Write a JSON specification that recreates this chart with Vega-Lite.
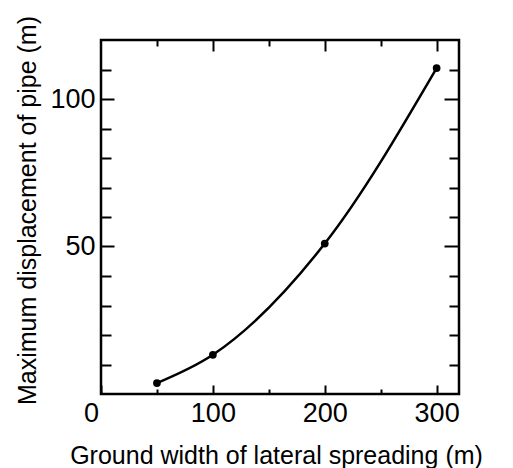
{
  "$schema": "https://vega.github.io/schema/vega-lite/v6.json",
  "width": 358,
  "height": 354,
  "autosize": "none",
  "padding": {"left": 101, "top": 40, "right": 54, "bottom": 74},
  "background": "white",
  "config": {
    "view": {"stroke": "black", "strokeWidth": 2.5},
    "axis": {
      "domain": false,
      "grid": false,
      "labelFont": "Liberation Sans",
      "titleFont": "Liberation Sans",
      "labelColor": "black",
      "titleColor": "black",
      "tickColor": "black",
      "tickWidth": 2,
      "labelFontSize": 27,
      "titleFontSize": 25,
      "titleFontWeight": "normal"
    }
  },
  "data": {
    "values": [
      {"w": 50, "d": 3.7},
      {"w": 100, "d": 13.3},
      {"w": 200, "d": 51},
      {"w": 300, "d": 110.5}
    ]
  },
  "resolve": {"axis": {"x": "independent", "y": "independent"}},
  "layer": [
    {
      "mark": {"type": "line", "interpolate": "monotone", "color": "black", "strokeWidth": 2.5},
      "encoding": {
        "x": {
          "field": "w", "type": "quantitative",
          "scale": {"domain": [0, 320], "nice": false},
          "axis": {
            "orient": "bottom",
            "title": "Ground width of lateral spreading (m)",
            "titlePadding": 17,
            "titleX": 175,
            "values": [0, 50, 100, 150, 200, 250, 300],
            "labelExpr": "datum.value % 100 == 0 ? datum.label : ''",
            "labelPadding": 15,
            "labelOffset": {"condition": {"test": "datum.value == 0", "value": -10}, "value": 0},
            "labelFlush": false,
            "tickSize": {"condition": {"test": "datum.value % 100 == 0", "value": -9}, "value": -5}
          }
        },
        "y": {
          "field": "d", "type": "quantitative",
          "scale": {"domain": [0, 120], "nice": false},
          "axis": {
            "orient": "left",
            "title": "Maximum displacement of pipe (m)",
            "titlePadding": 9,
            "titleY": 170,
            "values": [10, 20, 30, 40, 50, 60, 70, 80, 90, 100, 110],
            "labelExpr": "datum.value % 50 == 0 ? datum.label : ''",
            "labelPadding": 19,
            "labelFlush": false,
            "tickSize": {"condition": {"test": "datum.value % 50 == 0", "value": -13}, "value": -10}
          }
        }
      }
    },
    {
      "mark": {"type": "point", "filled": true, "color": "black", "size": 60, "opacity": 1},
      "encoding": {
        "x": {
          "field": "w", "type": "quantitative",
          "scale": {"domain": [0, 320], "nice": false},
          "axis": {
            "orient": "top",
            "title": null,
            "values": [50, 100, 150, 200, 250, 300],
            "labels": false,
            "tickSize": {"condition": {"test": "datum.value % 100 == 0", "value": -11}, "value": -6}
          }
        },
        "y": {
          "field": "d", "type": "quantitative",
          "scale": {"domain": [0, 120], "nice": false},
          "axis": {
            "orient": "right",
            "title": null,
            "values": [10, 20, 30, 40, 50, 60, 70, 80, 90, 100, 110],
            "labels": false,
            "tickSize": {"condition": {"test": "datum.value % 50 == 0", "value": -15}, "value": -10}
          }
        }
      }
    }
  ]
}
